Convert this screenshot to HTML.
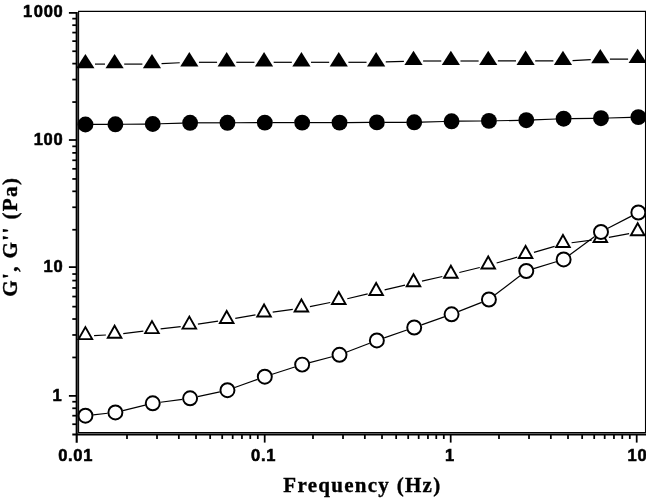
<!DOCTYPE html>
<html><head><meta charset="utf-8"><title>Frequency sweep</title>
<style>
html,body{margin:0;padding:0;background:#fff;}
body{width:646px;height:499px;overflow:hidden;}
svg{display:block;}
.tl{font-family:"Liberation Sans",sans-serif;font-weight:bold;font-size:16.5px;letter-spacing:0.7px;fill:#000;stroke:#000;stroke-width:0.55px;}
.at{font-family:"Liberation Serif",serif;font-weight:bold;font-size:21px;fill:#000;stroke:#000;stroke-width:0.35px;}
.xt{letter-spacing:1.28px;}
.yt{letter-spacing:1.42px;}
</style></head><body>
<svg width="646" height="499" viewBox="0 0 646 499">
<defs><clipPath id="pc"><rect x="77" y="11" width="569" height="424"/></clipPath></defs>
<rect width="646" height="499" fill="#fff"/>
<g clip-path="url(#pc)">
<line x1="95.00" y1="64.10" x2="105.00" y2="64.10" stroke="#000" stroke-width="1.2"/>
<line x1="124.20" y1="64.10" x2="142.37" y2="64.10" stroke="#000" stroke-width="1.2"/>
<line x1="161.55" y1="63.64" x2="179.74" y2="62.76" stroke="#000" stroke-width="1.2"/>
<line x1="198.93" y1="62.30" x2="217.09" y2="62.30" stroke="#000" stroke-width="1.2"/>
<line x1="236.29" y1="62.30" x2="254.46" y2="62.30" stroke="#000" stroke-width="1.2"/>
<line x1="273.66" y1="62.30" x2="291.82" y2="62.30" stroke="#000" stroke-width="1.2"/>
<line x1="311.02" y1="62.30" x2="329.18" y2="62.30" stroke="#000" stroke-width="1.2"/>
<line x1="348.38" y1="62.30" x2="366.54" y2="62.30" stroke="#000" stroke-width="1.2"/>
<line x1="385.74" y1="61.97" x2="403.91" y2="61.33" stroke="#000" stroke-width="1.2"/>
<line x1="423.11" y1="61.00" x2="441.27" y2="61.00" stroke="#000" stroke-width="1.2"/>
<line x1="460.47" y1="61.00" x2="478.63" y2="61.00" stroke="#000" stroke-width="1.2"/>
<line x1="497.83" y1="60.95" x2="516.00" y2="60.85" stroke="#000" stroke-width="1.2"/>
<line x1="535.20" y1="60.85" x2="553.36" y2="60.95" stroke="#000" stroke-width="1.2"/>
<line x1="572.55" y1="60.54" x2="590.73" y2="59.66" stroke="#000" stroke-width="1.2"/>
<line x1="609.92" y1="59.15" x2="628.09" y2="59.05" stroke="#000" stroke-width="1.2"/>
<polygon points="76.30,68.20 94.50,68.20 85.40,53.90" fill="#000"/>
<polygon points="105.50,68.20 123.70,68.20 114.60,53.90" fill="#000"/>
<polygon points="142.87,68.20 161.07,68.20 151.97,53.90" fill="#000"/>
<polygon points="180.23,66.40 198.43,66.40 189.33,52.10" fill="#000"/>
<polygon points="217.59,66.40 235.79,66.40 226.69,52.10" fill="#000"/>
<polygon points="254.96,66.40 273.16,66.40 264.06,52.10" fill="#000"/>
<polygon points="292.32,66.40 310.52,66.40 301.42,52.10" fill="#000"/>
<polygon points="329.68,66.40 347.88,66.40 338.78,52.10" fill="#000"/>
<polygon points="367.04,66.40 385.24,66.40 376.14,52.10" fill="#000"/>
<polygon points="404.41,65.10 422.61,65.10 413.51,50.80" fill="#000"/>
<polygon points="441.77,65.10 459.97,65.10 450.87,50.80" fill="#000"/>
<polygon points="479.13,65.10 497.33,65.10 488.23,50.80" fill="#000"/>
<polygon points="516.50,64.90 534.70,64.90 525.60,50.60" fill="#000"/>
<polygon points="553.86,65.10 572.06,65.10 562.96,50.80" fill="#000"/>
<polygon points="591.22,63.30 609.42,63.30 600.32,49.00" fill="#000"/>
<polygon points="628.58,63.10 646.78,63.10 637.68,48.80" fill="#000"/>
<line x1="92.95" y1="124.45" x2="107.89" y2="124.35" stroke="#000" stroke-width="1.2"/>
<line x1="122.89" y1="124.24" x2="145.25" y2="124.06" stroke="#000" stroke-width="1.2"/>
<line x1="160.24" y1="123.76" x2="182.60" y2="123.04" stroke="#000" stroke-width="1.2"/>
<line x1="197.60" y1="122.80" x2="219.95" y2="122.80" stroke="#000" stroke-width="1.2"/>
<line x1="234.95" y1="122.76" x2="257.31" y2="122.64" stroke="#000" stroke-width="1.2"/>
<line x1="272.31" y1="122.60" x2="294.66" y2="122.60" stroke="#000" stroke-width="1.2"/>
<line x1="309.66" y1="122.60" x2="332.01" y2="122.60" stroke="#000" stroke-width="1.2"/>
<line x1="347.01" y1="122.56" x2="369.36" y2="122.44" stroke="#000" stroke-width="1.2"/>
<line x1="384.36" y1="122.38" x2="406.72" y2="122.32" stroke="#000" stroke-width="1.2"/>
<line x1="421.71" y1="122.10" x2="444.07" y2="121.50" stroke="#000" stroke-width="1.2"/>
<line x1="459.07" y1="121.22" x2="481.42" y2="120.98" stroke="#000" stroke-width="1.2"/>
<line x1="496.42" y1="120.76" x2="518.78" y2="120.34" stroke="#000" stroke-width="1.2"/>
<line x1="533.77" y1="119.90" x2="556.14" y2="119.00" stroke="#000" stroke-width="1.2"/>
<line x1="571.13" y1="118.60" x2="593.48" y2="118.30" stroke="#000" stroke-width="1.2"/>
<line x1="608.48" y1="117.98" x2="630.84" y2="117.32" stroke="#000" stroke-width="1.2"/>
<circle cx="85.45" cy="124.50" r="7.95" fill="#000"/>
<circle cx="115.39" cy="124.30" r="7.95" fill="#000"/>
<circle cx="152.75" cy="124.00" r="7.95" fill="#000"/>
<circle cx="190.10" cy="122.80" r="7.95" fill="#000"/>
<circle cx="227.45" cy="122.80" r="7.95" fill="#000"/>
<circle cx="264.81" cy="122.60" r="7.95" fill="#000"/>
<circle cx="302.16" cy="122.60" r="7.95" fill="#000"/>
<circle cx="339.51" cy="122.60" r="7.95" fill="#000"/>
<circle cx="376.86" cy="122.40" r="7.95" fill="#000"/>
<circle cx="414.22" cy="122.30" r="7.95" fill="#000"/>
<circle cx="451.57" cy="121.30" r="7.95" fill="#000"/>
<circle cx="488.92" cy="120.90" r="7.95" fill="#000"/>
<circle cx="526.28" cy="120.20" r="7.95" fill="#000"/>
<circle cx="563.63" cy="118.70" r="7.95" fill="#000"/>
<circle cx="600.98" cy="118.20" r="7.95" fill="#000"/>
<circle cx="638.34" cy="117.10" r="7.95" fill="#000"/>
<line x1="94.09" y1="335.58" x2="105.91" y2="335.02" stroke="#000" stroke-width="1.2"/>
<line x1="123.24" y1="333.54" x2="143.33" y2="331.06" stroke="#000" stroke-width="1.2"/>
<line x1="160.60" y1="328.96" x2="180.69" y2="326.54" stroke="#000" stroke-width="1.2"/>
<line x1="197.93" y1="324.19" x2="218.09" y2="321.11" stroke="#000" stroke-width="1.2"/>
<line x1="235.26" y1="318.31" x2="255.48" y2="314.79" stroke="#000" stroke-width="1.2"/>
<line x1="272.68" y1="312.15" x2="292.79" y2="309.45" stroke="#000" stroke-width="1.2"/>
<line x1="309.95" y1="306.59" x2="330.25" y2="302.51" stroke="#000" stroke-width="1.2"/>
<line x1="347.24" y1="298.76" x2="367.69" y2="293.84" stroke="#000" stroke-width="1.2"/>
<line x1="384.62" y1="289.83" x2="405.03" y2="285.07" stroke="#000" stroke-width="1.2"/>
<line x1="421.99" y1="281.17" x2="442.39" y2="276.53" stroke="#000" stroke-width="1.2"/>
<line x1="459.32" y1="272.52" x2="479.79" y2="267.48" stroke="#000" stroke-width="1.2"/>
<line x1="496.60" y1="263.03" x2="517.23" y2="257.17" stroke="#000" stroke-width="1.2"/>
<line x1="533.95" y1="252.36" x2="554.61" y2="246.34" stroke="#000" stroke-width="1.2"/>
<line x1="571.58" y1="242.75" x2="591.70" y2="240.05" stroke="#000" stroke-width="1.2"/>
<line x1="608.88" y1="237.34" x2="629.13" y2="233.66" stroke="#000" stroke-width="1.2"/>
<polygon points="78.63,339.15 92.17,339.15 85.40,327.13" fill="#fff" stroke="#000" stroke-width="1.9" stroke-linejoin="miter"/>
<polygon points="107.83,337.75 121.38,337.75 114.60,325.73" fill="#fff" stroke="#000" stroke-width="1.9" stroke-linejoin="miter"/>
<polygon points="145.19,333.15 158.74,333.15 151.97,321.13" fill="#fff" stroke="#000" stroke-width="1.9" stroke-linejoin="miter"/>
<polygon points="182.56,328.65 196.10,328.65 189.33,316.63" fill="#fff" stroke="#000" stroke-width="1.9" stroke-linejoin="miter"/>
<polygon points="219.92,322.95 233.47,322.95 226.69,310.93" fill="#fff" stroke="#000" stroke-width="1.9" stroke-linejoin="miter"/>
<polygon points="257.28,316.45 270.83,316.45 264.06,304.43" fill="#fff" stroke="#000" stroke-width="1.9" stroke-linejoin="miter"/>
<polygon points="294.64,311.45 308.19,311.45 301.42,299.43" fill="#fff" stroke="#000" stroke-width="1.9" stroke-linejoin="miter"/>
<polygon points="332.01,303.95 345.55,303.95 338.78,291.93" fill="#fff" stroke="#000" stroke-width="1.9" stroke-linejoin="miter"/>
<polygon points="369.37,294.95 382.92,294.95 376.14,282.93" fill="#fff" stroke="#000" stroke-width="1.9" stroke-linejoin="miter"/>
<polygon points="406.73,286.25 420.28,286.25 413.51,274.23" fill="#fff" stroke="#000" stroke-width="1.9" stroke-linejoin="miter"/>
<polygon points="444.10,277.75 457.64,277.75 450.87,265.73" fill="#fff" stroke="#000" stroke-width="1.9" stroke-linejoin="miter"/>
<polygon points="481.46,268.55 495.01,268.55 488.23,256.53" fill="#fff" stroke="#000" stroke-width="1.9" stroke-linejoin="miter"/>
<polygon points="518.82,257.95 532.37,257.95 525.60,245.93" fill="#fff" stroke="#000" stroke-width="1.9" stroke-linejoin="miter"/>
<polygon points="556.19,247.05 569.73,247.05 562.96,235.03" fill="#fff" stroke="#000" stroke-width="1.9" stroke-linejoin="miter"/>
<polygon points="593.55,242.05 607.10,242.05 600.32,230.03" fill="#fff" stroke="#000" stroke-width="1.9" stroke-linejoin="miter"/>
<polygon points="630.91,235.25 644.46,235.25 637.68,223.23" fill="#fff" stroke="#000" stroke-width="1.9" stroke-linejoin="miter"/>
<line x1="93.20" y1="414.85" x2="107.64" y2="413.25" stroke="#000" stroke-width="1.2"/>
<line x1="122.97" y1="410.55" x2="145.17" y2="405.15" stroke="#000" stroke-width="1.2"/>
<line x1="160.48" y1="402.27" x2="182.37" y2="399.33" stroke="#000" stroke-width="1.2"/>
<line x1="197.72" y1="396.65" x2="219.83" y2="391.85" stroke="#000" stroke-width="1.2"/>
<line x1="234.79" y1="387.55" x2="257.47" y2="379.35" stroke="#000" stroke-width="1.2"/>
<line x1="272.23" y1="374.30" x2="294.74" y2="367.00" stroke="#000" stroke-width="1.2"/>
<line x1="309.70" y1="362.62" x2="331.97" y2="356.78" stroke="#000" stroke-width="1.2"/>
<line x1="346.79" y1="351.99" x2="369.59" y2="343.21" stroke="#000" stroke-width="1.2"/>
<line x1="384.24" y1="337.85" x2="406.84" y2="330.05" stroke="#000" stroke-width="1.2"/>
<line x1="421.57" y1="324.90" x2="444.22" y2="316.90" stroke="#000" stroke-width="1.2"/>
<line x1="458.82" y1="311.43" x2="481.67" y2="302.37" stroke="#000" stroke-width="1.2"/>
<line x1="495.12" y1="294.77" x2="520.07" y2="275.73" stroke="#000" stroke-width="1.2"/>
<line x1="533.73" y1="268.69" x2="556.18" y2="261.71" stroke="#000" stroke-width="1.2"/>
<line x1="569.91" y1="254.78" x2="594.70" y2="236.52" stroke="#000" stroke-width="1.2"/>
<line x1="607.90" y1="228.30" x2="631.41" y2="216.10" stroke="#000" stroke-width="1.2"/>
<circle cx="85.45" cy="415.70" r="7.0" fill="#fff" stroke="#000" stroke-width="1.95"/>
<circle cx="115.39" cy="412.40" r="7.0" fill="#fff" stroke="#000" stroke-width="1.95"/>
<circle cx="152.75" cy="403.30" r="7.0" fill="#fff" stroke="#000" stroke-width="1.95"/>
<circle cx="190.10" cy="398.30" r="7.0" fill="#fff" stroke="#000" stroke-width="1.95"/>
<circle cx="227.45" cy="390.20" r="7.0" fill="#fff" stroke="#000" stroke-width="1.95"/>
<circle cx="264.81" cy="376.70" r="7.0" fill="#fff" stroke="#000" stroke-width="1.95"/>
<circle cx="302.16" cy="364.60" r="7.0" fill="#fff" stroke="#000" stroke-width="1.95"/>
<circle cx="339.51" cy="354.80" r="7.0" fill="#fff" stroke="#000" stroke-width="1.95"/>
<circle cx="376.86" cy="340.40" r="7.0" fill="#fff" stroke="#000" stroke-width="1.95"/>
<circle cx="414.22" cy="327.50" r="7.0" fill="#fff" stroke="#000" stroke-width="1.95"/>
<circle cx="451.57" cy="314.30" r="7.0" fill="#fff" stroke="#000" stroke-width="1.95"/>
<circle cx="488.92" cy="299.50" r="7.0" fill="#fff" stroke="#000" stroke-width="1.95"/>
<circle cx="526.28" cy="271.00" r="7.0" fill="#fff" stroke="#000" stroke-width="1.95"/>
<circle cx="563.63" cy="259.40" r="7.0" fill="#fff" stroke="#000" stroke-width="1.95"/>
<circle cx="600.98" cy="231.90" r="7.0" fill="#fff" stroke="#000" stroke-width="1.95"/>
<circle cx="638.34" cy="212.50" r="7.0" fill="#fff" stroke="#000" stroke-width="1.95"/>
</g>
<path d="M78.6,433 V11.4 H645.5 V433" fill="none" stroke="#000" stroke-width="1.1"/>
<line x1="78" y1="432.6" x2="646" y2="432.6" stroke="#000" stroke-width="1.2"/>
<line x1="76.7" y1="12" x2="76.7" y2="442.7" stroke="#000" stroke-width="2.1"/>
<line x1="72.3" y1="434.55" x2="646" y2="434.55" stroke="#000" stroke-width="2.1"/>
<line x1="68.9" y1="12.9" x2="76" y2="12.9" stroke="#000" stroke-width="1.75"/>
<line x1="68.9" y1="140.0" x2="76" y2="140.0" stroke="#000" stroke-width="1.75"/>
<line x1="68.9" y1="267.1" x2="76" y2="267.1" stroke="#000" stroke-width="1.75"/>
<line x1="68.9" y1="395.9" x2="76" y2="395.9" stroke="#000" stroke-width="1.75"/>
<line x1="72.3" y1="102.06" x2="76" y2="102.06" stroke="#000" stroke-width="1.75"/>
<line x1="72.3" y1="79.57" x2="76" y2="79.57" stroke="#000" stroke-width="1.75"/>
<line x1="72.3" y1="63.62" x2="76" y2="63.62" stroke="#000" stroke-width="1.75"/>
<line x1="72.3" y1="51.24" x2="76" y2="51.24" stroke="#000" stroke-width="1.75"/>
<line x1="72.3" y1="41.13" x2="76" y2="41.13" stroke="#000" stroke-width="1.75"/>
<line x1="72.3" y1="32.58" x2="76" y2="32.58" stroke="#000" stroke-width="1.75"/>
<line x1="72.3" y1="25.18" x2="76" y2="25.18" stroke="#000" stroke-width="1.75"/>
<line x1="72.3" y1="18.64" x2="76" y2="18.64" stroke="#000" stroke-width="1.75"/>
<line x1="72.3" y1="229.76" x2="76" y2="229.76" stroke="#000" stroke-width="1.75"/>
<line x1="72.3" y1="207.27" x2="76" y2="207.27" stroke="#000" stroke-width="1.75"/>
<line x1="72.3" y1="191.32" x2="76" y2="191.32" stroke="#000" stroke-width="1.75"/>
<line x1="72.3" y1="178.94" x2="76" y2="178.94" stroke="#000" stroke-width="1.75"/>
<line x1="72.3" y1="168.83" x2="76" y2="168.83" stroke="#000" stroke-width="1.75"/>
<line x1="72.3" y1="160.28" x2="76" y2="160.28" stroke="#000" stroke-width="1.75"/>
<line x1="72.3" y1="152.88" x2="76" y2="152.88" stroke="#000" stroke-width="1.75"/>
<line x1="72.3" y1="146.34" x2="76" y2="146.34" stroke="#000" stroke-width="1.75"/>
<line x1="72.3" y1="357.46" x2="76" y2="357.46" stroke="#000" stroke-width="1.75"/>
<line x1="72.3" y1="334.97" x2="76" y2="334.97" stroke="#000" stroke-width="1.75"/>
<line x1="72.3" y1="319.02" x2="76" y2="319.02" stroke="#000" stroke-width="1.75"/>
<line x1="72.3" y1="306.64" x2="76" y2="306.64" stroke="#000" stroke-width="1.75"/>
<line x1="72.3" y1="296.53" x2="76" y2="296.53" stroke="#000" stroke-width="1.75"/>
<line x1="72.3" y1="287.98" x2="76" y2="287.98" stroke="#000" stroke-width="1.75"/>
<line x1="72.3" y1="280.58" x2="76" y2="280.58" stroke="#000" stroke-width="1.75"/>
<line x1="72.3" y1="274.04" x2="76" y2="274.04" stroke="#000" stroke-width="1.75"/>
<line x1="72.3" y1="424.23" x2="76" y2="424.23" stroke="#000" stroke-width="1.75"/>
<line x1="72.3" y1="415.68" x2="76" y2="415.68" stroke="#000" stroke-width="1.75"/>
<line x1="72.3" y1="408.28" x2="76" y2="408.28" stroke="#000" stroke-width="1.75"/>
<line x1="72.3" y1="401.74" x2="76" y2="401.74" stroke="#000" stroke-width="1.75"/>
<line x1="264.7" y1="435" x2="264.7" y2="442.6" stroke="#000" stroke-width="1.75"/>
<line x1="450.7" y1="435" x2="450.7" y2="442.6" stroke="#000" stroke-width="1.75"/>
<line x1="636.7" y1="435" x2="636.7" y2="442.6" stroke="#000" stroke-width="1.75"/>
<line x1="126.99" y1="435" x2="126.99" y2="439" stroke="#000" stroke-width="1.75"/>
<line x1="157.01" y1="435" x2="157.01" y2="439" stroke="#000" stroke-width="1.75"/>
<line x1="178.84" y1="435" x2="178.84" y2="439" stroke="#000" stroke-width="1.75"/>
<line x1="196.01" y1="435" x2="196.01" y2="439" stroke="#000" stroke-width="1.75"/>
<line x1="210.16" y1="435" x2="210.16" y2="439" stroke="#000" stroke-width="1.75"/>
<line x1="222.20" y1="435" x2="222.20" y2="439" stroke="#000" stroke-width="1.75"/>
<line x1="232.68" y1="435" x2="232.68" y2="439" stroke="#000" stroke-width="1.75"/>
<line x1="241.95" y1="435" x2="241.95" y2="439" stroke="#000" stroke-width="1.75"/>
<line x1="250.27" y1="435" x2="250.27" y2="439" stroke="#000" stroke-width="1.75"/>
<line x1="257.80" y1="435" x2="257.80" y2="439" stroke="#000" stroke-width="1.75"/>
<line x1="312.99" y1="435" x2="312.99" y2="439" stroke="#000" stroke-width="1.75"/>
<line x1="343.01" y1="435" x2="343.01" y2="439" stroke="#000" stroke-width="1.75"/>
<line x1="364.84" y1="435" x2="364.84" y2="439" stroke="#000" stroke-width="1.75"/>
<line x1="382.01" y1="435" x2="382.01" y2="439" stroke="#000" stroke-width="1.75"/>
<line x1="396.16" y1="435" x2="396.16" y2="439" stroke="#000" stroke-width="1.75"/>
<line x1="408.20" y1="435" x2="408.20" y2="439" stroke="#000" stroke-width="1.75"/>
<line x1="418.68" y1="435" x2="418.68" y2="439" stroke="#000" stroke-width="1.75"/>
<line x1="427.95" y1="435" x2="427.95" y2="439" stroke="#000" stroke-width="1.75"/>
<line x1="436.27" y1="435" x2="436.27" y2="439" stroke="#000" stroke-width="1.75"/>
<line x1="443.80" y1="435" x2="443.80" y2="439" stroke="#000" stroke-width="1.75"/>
<line x1="498.99" y1="435" x2="498.99" y2="439" stroke="#000" stroke-width="1.75"/>
<line x1="529.01" y1="435" x2="529.01" y2="439" stroke="#000" stroke-width="1.75"/>
<line x1="550.84" y1="435" x2="550.84" y2="439" stroke="#000" stroke-width="1.75"/>
<line x1="568.01" y1="435" x2="568.01" y2="439" stroke="#000" stroke-width="1.75"/>
<line x1="582.16" y1="435" x2="582.16" y2="439" stroke="#000" stroke-width="1.75"/>
<line x1="594.20" y1="435" x2="594.20" y2="439" stroke="#000" stroke-width="1.75"/>
<line x1="604.68" y1="435" x2="604.68" y2="439" stroke="#000" stroke-width="1.75"/>
<line x1="613.95" y1="435" x2="613.95" y2="439" stroke="#000" stroke-width="1.75"/>
<line x1="622.27" y1="435" x2="622.27" y2="439" stroke="#000" stroke-width="1.75"/>
<line x1="629.80" y1="435" x2="629.80" y2="439" stroke="#000" stroke-width="1.75"/>
<text class="tl" x="63.5" y="16.9" text-anchor="end">1<tspan dx="0.9">000</tspan></text>
<text class="tl" x="63.3" y="144.8" text-anchor="end">100</text>
<text class="tl" x="63.3" y="272.0" text-anchor="end">10</text>
<text class="tl" x="62.4" y="401.4" text-anchor="end">1</text>
<text class="tl" x="75.6" y="461.4" text-anchor="middle">0.01</text>
<text class="tl" x="263.6" y="461.4" text-anchor="middle">0.1</text>
<text class="tl" x="449.9" y="461.4" text-anchor="middle">1</text>
<text class="tl" x="637.4" y="461.4" text-anchor="middle">10</text>
<text class="at xt" x="362.4" y="491.6" text-anchor="middle">Frequency (Hz)</text>
<text class="at yt" transform="translate(17.4,236.7) rotate(-90)" text-anchor="middle">G', G'' (Pa)</text>
</svg>
</body></html>
